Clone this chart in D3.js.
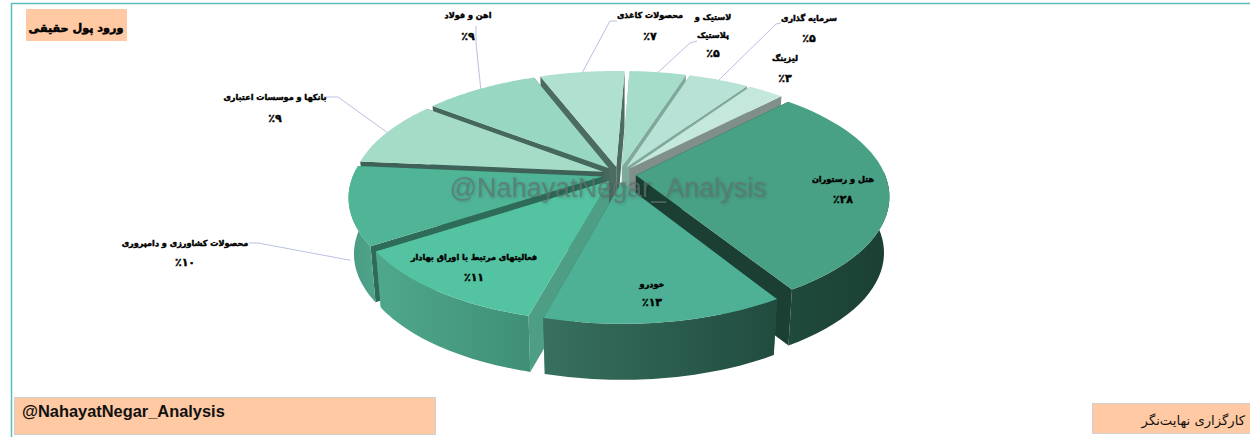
<!DOCTYPE html>
<html><head><meta charset="utf-8">
<script src="https://cdn.jsdelivr.net/npm/d3@7"></script>
<style>html,body{margin:0;padding:0;background:#fff;overflow:hidden}svg{display:block}</style>
</head><body><svg id="c" width="1250" height="437"></svg>
<script>
const categories=["هتل و رستوران","خودرو","فعالیتهای مرتبط با اوراق بهادار","محصولات کشاورزی و دامپروری","بانکها و موسسات اعتباری","اهن و فولاد","محصولات کاغذی","لاستیک و پلاستیک","سرمایه گذاری","لیزینگ"];
const values=[28,13,11,10,9,9,7,5,5,3];
const percentLabels=["٪۲۸","٪۱۳","٪۱۱","٪۱۰","٪۹","٪۹","٪۷","٪۵","٪۵","٪۳"];
const topColors=["#48a085","#4eb094","#54c3a2","#50b597","#a5dcc8","#98d8c2","#b0e0d0","#a5dcca","#b8e2d6","#c5e8dd"];
const wallLeft=["#1f4a3c","#38705f","#4fa88c","#4a9a82","#6fa090","#6a9a88","#7fa99b","#7fa99b","#8fb0a5","#8a9a95"];
const wallRight=["#1b4033","#204c3f","#3f8f76","#4da28a","#6fa090","#6a9a88","#7fa99b","#7fa99b","#8fb0a5","#8a9a95"];
const radialColors=["#1b4033","#2f6153","#4d9e85","#2f6b59","#3f6258","#46675c","#4c6c62","#7fa99b","#7fa99b","#808f8a"];
// label layout: [x, firstLineY, lineGap]
const labelPos=[[843,179,20],[652,284,18],[474,257,20],[185,243,19],[275,97,21],[468,15,21],[650,15,21],[713,17,18],[809,18,20],[785,58,20]];
const leaderElbow=[null,null,null,[[249,243],[258,243]],[[324,97],[338,97]],[[476,26],[476,43]],[[617,21],[610,21]],[[697,41],[690,43]],[[781,23],[776,24]],null];
const leaderDrop=[0,0,0,0.98,0,0,0,0,0,0];
// apparent-angle calibration of the 3-D view, in degrees: pie angle -> drift
const viewAngles=[44,145,192,231,267,300,332,357,375,393,404];
const viewDrift=[0,3.5,3.5,5.5,8,8,7,5,2.5,1,0];

const svg=d3.select("#c");
const defs=svg.append("defs");
const cx=619,cy=174.5,R=249,EX=17,K=0.46,D=1468,DEPTH=56,BOTTOM=0.98,START=44;
const rad=Math.PI/180;
const toPx=(X,Y,low)=>{const f=D/(D-Y);const s=low?BOTTOM:1;return [cx+X*f*s,cy+Y*K*f+(low?DEPTH:0)];};
const drift=d3.scaleLinear().domain(viewAngles).range(viewDrift);
const view=th=>th+drift(th/rad)*rad;

const pie=d3.pie().sort(null).startAngle(START*rad).endAngle((START+360)*rad);
const arcs=pie(values).map((a,i)=>({...a,i,mid:(a.startAngle+a.endAngle)/2}));
const pt=(a,r,th,low)=>{
  const m=view(a.mid),t=view(th);
  const X=EX*Math.sin(m)+r*Math.sin(t);
  const Y=-EX*Math.cos(m)-r*Math.cos(t);
  return toPx(X,Y,low);
};
const line=d3.line();
const steps=d3.range(0,41);
const thetaAt=(a,j)=>a.startAngle+(a.endAngle-a.startAngle)*j/40;
const arcPts=(a,low)=>steps.map(j=>pt(a,R,thetaAt(a,j),low));

const order=[...arcs].sort((p,q)=>(-Math.cos(view(p.mid)))-(-Math.cos(view(q.mid))));
const g=svg.append("g");
order.forEach(a=>{
  const i=a.i;
  const top=arcPts(a,false),bot=arcPts(a,true);
  const x0=d3.min(top,d=>d[0]),x1=d3.max(top,d=>d[0]);
  const id="wall"+i;
  const lg=defs.append("linearGradient").attr("id",id).attr("gradientUnits","userSpaceOnUse").attr("x1",x0).attr("x2",x1).attr("y1",0).attr("y2",0);
  lg.append("stop").attr("offset",0).attr("stop-color",wallLeft[i]);
  lg.append("stop").attr("offset",1).attr("stop-color",wallRight[i]);
  const apexT=pt(a,0,0,false),apexB=pt(a,0,0,true);
  [[top[0],bot[0]],[top[40],bot[40]]].forEach(([t,b])=>{
    g.append("path").attr("d",line([apexT,t,b,apexB])+"Z").attr("fill",radialColors[i]);
  });
  // only the part of the rim that faces the viewer has a visible outer wall
  const front=steps.filter(j=>-Math.cos(view(thetaAt(a,j)))>=-0.06);
  if(front.length>1){
    const ft=front.map(j=>top[j]),fb=front.map(j=>bot[j]).reverse();
    g.append("path").attr("d",line([...ft,...fb])+"Z").attr("fill",`url(#${id})`);
  }
  g.append("path").attr("d",line([apexT,...top])+"Z").attr("fill",topColors[i]);
});

arcs.forEach(a=>{
  const el=leaderElbow[a.i]; if(!el) return;
  const e=pt(a,R*0.995,a.mid,false);
  const end=[e[0],e[1]+leaderDrop[a.i]*DEPTH];
  svg.append("path").attr("d",line([...el,end])).attr("fill","none").attr("stroke","#b9c0e2").attr("stroke-width",1);
});

const labelFont="'DejaVu Sans',sans-serif";
svg.append("text").attr("x",608).attr("y",197).attr("text-anchor","middle")
  .attr("font-family","'Liberation Sans',Arial,sans-serif").attr("font-size",27)
  .attr("fill","#5f7570").attr("fill-opacity",0.72)
  .style("filter","drop-shadow(1px 1px 1.5px rgba(0,0,0,0.25))").text("@NahayatNegar_Analysis");

arcs.forEach(a=>{
  const [x,y,gap]=labelPos[a.i];
  const name=categories[a.i];
  const lines=name==="لاستیک و پلاستیک"?["لاستیک و","پلاستیک"]:[name];
  const all=[...lines,percentLabels[a.i]];
  all.forEach((t,k)=>{
    const isPct=k===all.length-1;
    svg.append("text").attr("x",x).attr("y",y+k*gap).attr("text-anchor","middle").attr("dominant-baseline","central")
      .attr("font-family",labelFont).attr("font-weight","bold").attr("font-size",isPct?11:8.1)
      .attr("stroke","#000").attr("stroke-width",0.45)
      .attr("fill","#000").attr("direction",isPct?"ltr":"rtl").text(t);
  });
});

svg.append("path").attr("d","M11.5,437V3.5H1250").attr("fill","none").attr("stroke","#5fbcbc").attr("stroke-width",1.5);

svg.append("rect").attr("x",26).attr("y",9).attr("width",101).attr("height",32).attr("fill","#ffc9a3");
svg.append("text").attr("x",76).attr("y",28).attr("text-anchor","middle").attr("dominant-baseline","central").attr("direction","rtl")
  .attr("font-family",labelFont).attr("font-weight","bold").attr("font-size",11.2).attr("stroke","#000").attr("stroke-width",0.5).attr("fill","#000").text("ورود پول حقیقی");
svg.append("rect").attr("x",14.5).attr("y",397.5).attr("width",421).attr("height",37).attr("fill","#ffc9a3").attr("stroke","#cfcfcf");
svg.append("text").attr("x",22).attr("y",417).attr("font-family","'Liberation Sans',Arial,sans-serif").attr("font-weight","bold").attr("font-size",16.4).attr("fill","#111").text("@NahayatNegar_Analysis");
svg.append("rect").attr("x",1092.5).attr("y",403.5).attr("width",160).attr("height",30).attr("fill","#ffc9a3").attr("stroke","#cfcfcf");
svg.append("text").attr("x",1245).attr("y",420).attr("text-anchor","start").attr("dominant-baseline","central").attr("direction","rtl")
  .attr("font-family",labelFont).attr("font-size",13.2).attr("fill","#111").text("کارگزاری نهایت‌نگر");
</script></body></html>
